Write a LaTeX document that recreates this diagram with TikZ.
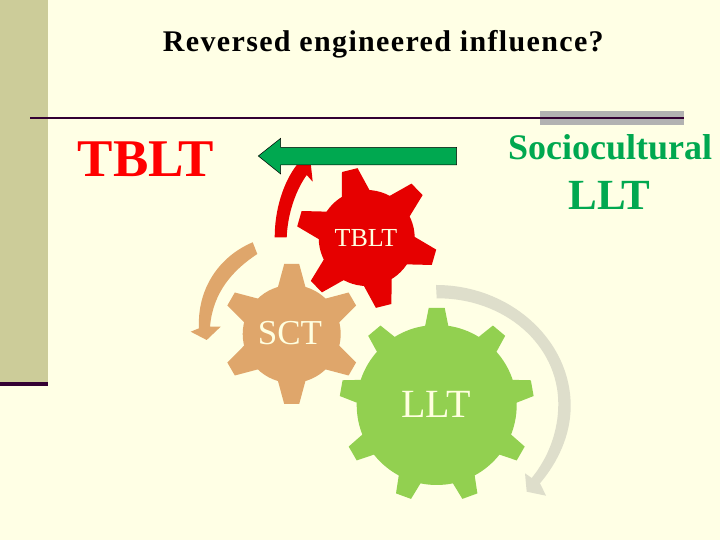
\documentclass[tikz,border=0pt]{standalone}
\usepackage{fontspec}
\setmainfont{Liberation Serif}
\definecolor{paper}{HTML}{FFFFE5}
\definecolor{bandcol}{HTML}{CCCC99}
\definecolor{rulecol}{HTML}{330033}
\definecolor{barcol}{HTML}{B2B2B2}
\definecolor{redcol}{HTML}{E60000}
\definecolor{sctcol}{HTML}{DFA66B}
\definecolor{lltcol}{HTML}{92D050}
\definecolor{turncol}{HTML}{DEDECB}
\definecolor{greencol}{HTML}{00A850}
\definecolor{labelcol}{HTML}{FFFFE0}
\newcommand{\gearwheel}[7]{%
	\fill[#1] (#2) circle (#3);
	\foreach \a in {#5} {
		\fill[#1, shift={(#2)}, rotate=\a] (#3-3,-#6) -- (#4,-#7) -- (#4,#7) -- (#3-3,#6) -- cycle;
	}
}
\tikzset{
	gearlabel/.style={text=labelcol},
}
\begin{document}
\begin{tikzpicture}[x=1pt, y=1pt, every node/.style={inner sep=0pt}]
	\useasboundingbox (0,0) rectangle (720,540);
	\fill[paper] (0,0) rectangle (720,540);
	\fill[bandcol] (0,158) rectangle (48,540);
	\fill[rulecol] (0,154) rectangle (48,158);
	\fill[barcol] (540,415) rectangle (684,429);
	\draw[rulecol, line width=1.6pt] (30,422) -- (684,422);
	% turning arrows
	\fill[redcol] (274.7,302.7) .. controls (274.7,330) and (283,357) .. (296.7,375) -- (310.7,376.7) -- (312.7,358.3) -- (306.7,365) .. controls (296,350) and (287.7,327) .. (286.7,302.7) -- cycle;
	\fill[sctcol] (252.7,297.7) .. controls (218,283) and (197,250) .. (199,211.7) -- (190.7,208.3) -- (206.7,200) -- (220.7,213.3) -- (210,213.3) .. controls (213,248) and (233,270) .. (257.3,286) -- cycle;
	\fill[turncol] (436,255) .. controls (510,255) and (570.7,200) .. (570.7,134) .. controls (570.7,105) and (558,78) .. (540,56.7) -- (546,44.3) -- (526.7,48.3) -- (525,66.7) -- (531.7,62) .. controls (548,82) and (558.3,108) .. (558.3,136) .. controls (558.3,195) and (505,242) .. (436.7,241.7) -- cycle;
	% gears
	\gearwheel{redcol}{366.7,302}{48}{70}{44,104,164,224,284,344}{14.5}{8}
	\gearwheel{sctcol}{291.7,206}{49}{70}{30,90,150,210,270,330}{14}{7.5}
	\gearwheel{lltcol}{436.7,135}{80}{97}{10,50,90,130,170,210,250,290,330}{12}{8}
	\draw[black, line width=0.5pt, fill=greencol] (258.3,384) -- (280.7,401.7) -- (280.7,392.7) -- (456.7,392.7) -- (456.7,375) -- (280.7,375) -- (280.7,366) -- cycle;
	% texts
	\node (title) at (384,496) {\fontsize{30}{30}\selectfont\addfontfeature{LetterSpace=4.5}\textbf{Reversed engineered influence?}};
	\node[text=red] (lefttitle) at (146,381) {\fontsize{53}{53}\selectfont\textbf{TBLT}};
	\node[text=greencol] (righttop) at (610,393) {\fontsize{36}{36}\selectfont\textbf{Sociocultural}};
	\node[text=greencol] (rightbottom) at (609.5,345) {\fontsize{43}{43}\selectfont\textbf{LLT}};
	\node[gearlabel] (tbltlabel) at (366,302) {\fontsize{26}{26}\selectfont TBLT};
	\node[gearlabel] (sctlabel) at (290,207) {\fontsize{35}{35}\selectfont SCT};
	\node[gearlabel] (lltlabel) at (436,136) {\fontsize{40}{40}\selectfont LLT};
\end{tikzpicture}
\end{document}
